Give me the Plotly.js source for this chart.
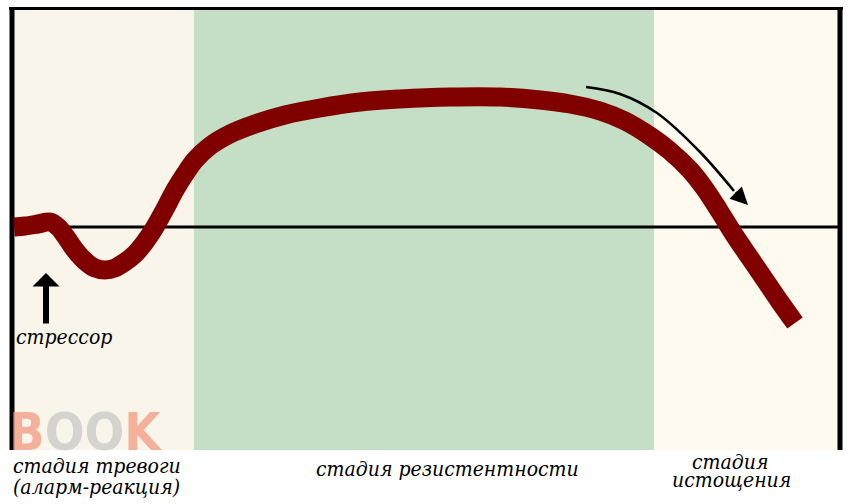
<!DOCTYPE html>
<html>
<head>
<meta charset="utf-8">
<script src="https://cdn.plot.ly/plotly-3.0.1.min.js"></script>
<style>html,body{margin:0;padding:0;background:#fff;}#chart{width:854px;height:504px;}</style>
</head>
<body>
<div id="chart"></div>
<script>
var stageLabels = ["стадия тревоги", "(аларм-реакция)", "стадия резистентности", "стадия", "истощения"];
var stressorLabel = "стрессор";

var curveX = [14, 25, 38, 50, 58, 66, 75, 85, 95, 105, 115, 125, 135, 145, 155, 165, 175, 185, 195, 210, 230, 255, 285, 320, 360, 400, 450, 500, 540, 570, 600, 625, 650, 670, 690, 705, 720, 735, 750, 765, 780, 795];
var curveY = [227, 226, 224, 222, 227, 237, 250, 261, 268, 270, 268, 262, 254, 242, 227, 209, 190, 174, 160, 146, 134, 124, 115, 108, 102, 99, 97, 97, 100, 104, 111, 121, 136, 151, 170, 189, 212, 236, 258, 280, 302, 323];

var arrowX = [586, 620, 657, 700, 734];
var arrowY = [87, 94, 113, 152, 191];

var traces = [
  {x: curveX, y: curveY, type: 'scatter', mode: 'lines',
   line: {color: '#800000', width: 19, shape: 'spline', smoothing: 1},
   hoverinfo: 'skip', showlegend: false},
  {x: arrowX, y: arrowY, type: 'scatter', mode: 'lines',
   line: {color: '#000000', width: 2.5, shape: 'spline', smoothing: 1},
   hoverinfo: 'skip', showlegend: false}
];

var serif = 'DejaVu Serif Condensed';
var fs = 21;

var layout = {
  width: 854, height: 504,
  margin: {l: 0, r: 0, t: 0, b: 0},
  paper_bgcolor: '#ffffff', plot_bgcolor: '#ffffff',
  showlegend: false,
  xaxis: {range: [0, 854], visible: false, fixedrange: true},
  yaxis: {range: [504, 0], visible: false, fixedrange: true},
  shapes: [
    {type: 'rect', xref: 'x', yref: 'y', x0: 12, x1: 194, y0: 9, y1: 450, fillcolor: '#f9f5eb', line: {width: 0}, layer: 'below'},
    {type: 'rect', xref: 'x', yref: 'y', x0: 194, x1: 654, y0: 9, y1: 450, fillcolor: '#c5dec6', line: {width: 0}, layer: 'below'},
    {type: 'rect', xref: 'x', yref: 'y', x0: 654, x1: 840, y0: 9, y1: 450, fillcolor: '#fffaf0', line: {width: 0}, layer: 'below'},
    {type: 'line', xref: 'x', yref: 'y', x0: 9, x1: 843, y0: 8.5, y1: 8.5, line: {color: '#000', width: 3}, layer: 'below'},
    {type: 'line', xref: 'x', yref: 'y', x0: 12, x1: 12, y0: 7, y1: 450, line: {color: '#000', width: 5}, layer: 'below'},
    {type: 'line', xref: 'x', yref: 'y', x0: 840, x1: 840, y0: 7, y1: 450, line: {color: '#000', width: 5}, layer: 'below'},
    {type: 'line', xref: 'x', yref: 'y', x0: 12, x1: 840, y0: 227, y1: 227, line: {color: '#000', width: 3}, layer: 'below'}
  ],
  annotations: [
    {x: 7, y: 432, xref: 'x', yref: 'y', xanchor: 'left', yanchor: 'middle', showarrow: false,
     text: '<b>B<span style="color:#c8c8c8">OO</span>K</b>', opacity: 0.75,
     font: {family: 'DejaVu Sans Condensed', size: 52, color: '#f29a80'}},
    {x: 46, y: 273, ax: 46, ay: 325, xref: 'x', yref: 'y', axref: 'x', ayref: 'y',
     showarrow: true, arrowhead: 1, arrowsize: 0.75, arrowwidth: 6, arrowcolor: '#000', standoff: 0, text: ''},
    {x: 748, y: 205, ax: 734, ay: 191, xref: 'x', yref: 'y', axref: 'x', ayref: 'y',
     showarrow: true, arrowhead: 2, arrowsize: 1.4, arrowwidth: 2.5, arrowcolor: '#000', standoff: 0, text: ''},
    {x: 14, y: 337, xref: 'x', yref: 'y', xanchor: 'left', yanchor: 'middle', showarrow: false,
     text: '<i>' + stressorLabel + '</i>', font: {family: serif, size: fs, color: '#000'}},
    {x: 11, y: 466, xref: 'x', yref: 'y', xanchor: 'left', yanchor: 'middle', showarrow: false,
     text: '<i>' + stageLabels[0] + '</i>', font: {family: serif, size: fs, color: '#000'}},
    {x: 11, y: 487, xref: 'x', yref: 'y', xanchor: 'left', yanchor: 'middle', showarrow: false,
     text: '<i>' + stageLabels[1] + '</i>', font: {family: serif, size: fs, color: '#000'}},
    {x: 447, y: 469, xref: 'x', yref: 'y', xanchor: 'center', yanchor: 'middle', showarrow: false,
     text: '<i>' + stageLabels[2] + '</i>', font: {family: serif, size: fs, color: '#000'}},
    {x: 730, y: 462, xref: 'x', yref: 'y', xanchor: 'center', yanchor: 'middle', showarrow: false,
     text: '<i>' + stageLabels[3] + '</i>', font: {family: serif, size: fs, color: '#000'}},
    {x: 731, y: 480, xref: 'x', yref: 'y', xanchor: 'center', yanchor: 'middle', showarrow: false,
     text: '<i>' + stageLabels[4] + '</i>', font: {family: serif, size: fs, color: '#000'}}
  ]
};

Plotly.newPlot('chart', traces, layout, {displayModeBar: false, staticPlot: true});
</script>
</body>
</html>
